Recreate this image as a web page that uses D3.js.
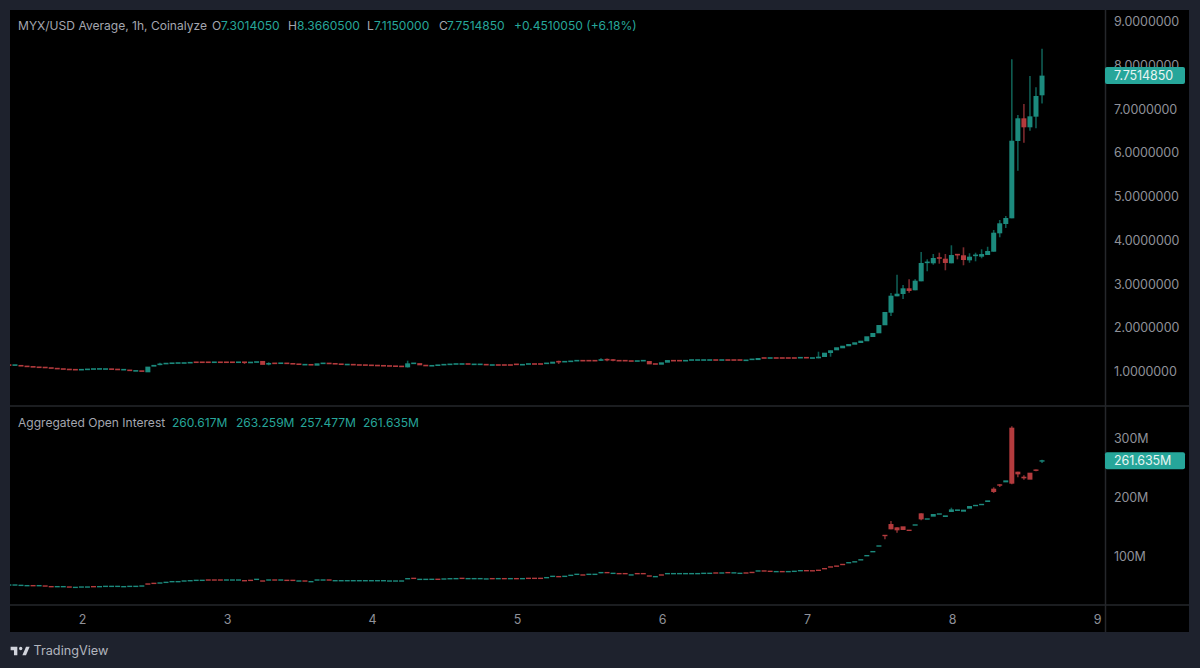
<!DOCTYPE html>
<html><head><meta charset="utf-8">
<script src="https://cdn.jsdelivr.net/npm/d3@7"></script>
<style>html,body{margin:0;padding:0;background:#1e222d;overflow:hidden}svg{display:block}text{font-family:Inter,"Noto Sans",sans-serif}</style>
</head><body><svg id="c" width="1200" height="668"></svg>
<script>
const dayTicks=[2,3,4,5,6,7,8,9];
const priceTicks=[1,2,3,4,5,6,7,8,9];
const oiTicks=[100,200,300];
const firstCandleHour=-12;
const priceOpen=[
1.14,1.13,1.13,1.11,1.10,1.09,1.085,1.075,1.06,1.05,
1.04,1.035,1.025,1.035,1.04,1.045,1.04,1.05,1.04,1.025,
1.03,1.0,1.005,0.97,1.10,1.14,1.165,1.175,1.18,1.18,
1.185,1.205,1.205,1.205,1.195,1.205,1.205,1.205,1.195,1.205,
1.19,1.19,1.23,1.155,1.18,1.17,1.18,1.17,1.16,1.14,
1.15,1.122,1.17,1.18,1.17,1.16,1.145,1.15,1.145,1.14,
1.135,1.13,1.125,1.12,1.115,1.11,1.084,1.17,1.18,1.13,
1.115,1.125,1.14,1.148,1.156,1.156,1.165,1.148,1.148,1.15,
1.133,1.142,1.142,1.142,1.157,1.14,1.156,1.165,1.165,1.171,
1.167,1.218,1.209,1.217,1.232,1.241,1.241,1.241,1.24,1.264,
1.256,1.241,1.241,1.233,1.224,1.232,1.228,1.165,1.144,1.19,
1.241,1.241,1.232,1.247,1.247,1.247,1.247,1.256,1.247,1.256,
1.256,1.256,1.24,1.262,1.25,1.302,1.293,1.302,1.302,1.302,
1.302,1.30,1.309,1.293,
1.29,1.32,1.411,1.473,1.519,1.565,1.601,1.64,1.679,1.777,1.862,2.045,2.333,2.707,2.76,2.89,2.845,3.05,3.475,3.462,3.599,3.567,3.462,3.674,3.645,3.53,3.629,3.613,3.651,3.727,4.147,4.36,4.49,6.257,6.776,6.57,6.813,7.3014];
const priceClose=[
1.13,1.14,1.11,1.10,1.09,1.08,1.075,1.06,1.05,1.04,
1.03,1.025,1.035,1.04,1.05,1.05,1.05,1.035,1.03,1.035,
1.00,1.005,0.99,1.10,1.14,1.165,1.175,1.18,1.185,1.185,
1.195,1.195,1.195,1.195,1.205,1.195,1.195,1.195,1.205,1.195,
1.20,1.22,1.14,1.175,1.17,1.185,1.17,1.16,1.15,1.15,
1.135,1.175,1.18,1.165,1.16,1.15,1.15,1.14,1.13,1.13,
1.125,1.12,1.115,1.11,1.105,1.10,1.175,1.18,1.13,1.12,
1.125,1.14,1.15,1.156,1.164,1.164,1.155,1.156,1.156,1.14,
1.141,1.132,1.132,1.132,1.147,1.148,1.164,1.155,1.155,1.179,
1.213,1.208,1.217,1.225,1.24,1.231,1.231,1.231,1.262,1.254,
1.246,1.231,1.231,1.223,1.232,1.24,1.152,1.155,1.198,1.25,
1.231,1.231,1.24,1.255,1.255,1.255,1.255,1.246,1.255,1.246,
1.246,1.246,1.248,1.27,1.297,1.292,1.301,1.292,1.292,1.292,
1.292,1.308,1.299,1.30,
1.327,1.418,1.473,1.542,1.578,1.617,1.656,1.693,1.793,1.869,2.051,2.349,2.721,2.767,2.89,2.829,3.064,3.469,3.491,3.583,3.567,3.469,3.651,3.645,3.537,3.613,3.658,3.674,3.743,4.161,4.376,4.497,6.264,6.776,6.57,6.821,7.286,7.7515];
const priceWicks=[[25,1.19,1.13],[39,1.205,1.16],[43,1.2,1.13],[66,1.236,1.08],[91,1.235,1.16],[98,1.29,1.23],[99,1.285,1.225],[100,1.275,1.225],[134,1.441,1.29],[136,1.473,1.327],[146,2.783,2.257],[147,3.201,2.707],[148,2.966,2.646],[149,3.096,2.79],[150,3.096,2.845],[151,3.72,3.05],[152,3.553,3.279],[153,3.674,3.43],[154,3.704,3.453],[155,3.674,3.302],[156,3.873,3.462],[157,3.674,3.553],[158,3.827,3.416],[159,3.69,3.475],[160,3.704,3.507],[161,3.782,3.576],[162,3.84,3.651],[163,4.223,3.727],[164,4.451,4.056],[165,4.543,4.269],[166,8.125,4.49],[167,6.851,5.578],[168,7.103,6.218],[169,7.743,6.493],[170,7.483,6.547],[171,8.366,7.115]];
const oiOpen=[50.4,50.4,49.8,49.3,50.1,49.3,49.5,48.4,47.6,47.6,47.8,46.4,47,47,48.4,47.6,48.1,48.1,48.1,47.6,48.1,48.1,48.7,52.9,54,53.8,54.9,56.1,56.1,57.2,57.7,58.3,58.3,59.7,59.7,59.7,58.9,58.9,58.9,58.5,59.1,60,58,58.9,59.7,58.9,59.1,59.1,57.2,58,56.1,58.9,58.9,59.7,57.7,57.7,57.7,57.7,57.7,57.7,57.7,57.7,57.7,57.2,57.2,57.2,61.1,62.5,60,60,60.1,60.9,60.6,60.9,61.2,62.5,61.2,61.2,61.2,60.7,62,61.2,62,61.2,62,61.2,62.5,62.5,62.5,62.9,65.1,65.4,65.1,66.8,68.5,68.2,68.5,68.5,71.4,72.2,70.2,70.5,70.5,67.5,70.5,70.5,66.5,64.6,68.2,69.7,69.7,69.7,69.7,69.7,69.7,70.2,70.2,71.6,70.8,72.2,71,70.2,71.6,72.5,74.2,75,74.4,73.1,73.9,73.1,73.6,74.7,75.5,75.3,76.1,78.9,81.8,83.2,86,88.2,89.2,92.6,99.4,106.2,115.8,135.6,154.2,148.6,150.3,144.1,151.4,172.3,161.6,166.7,170,166.1,174.6,176.3,175.1,180.2,184.7,186.4,191.5,214.1,221.5,224.8,317.5,242.9,234.4,241.2,246.3,260.617];
const oiClose=[51.2,51.2,50.6,50.1,49.3,50.1,48.7,47.6,48.4,48.4,47,47.2,47.8,47.8,47.6,48.4,48.9,48.9,48.9,48.4,48.9,48.9,49.5,52.1,53.2,54.6,55.7,56.9,56.9,58,58.5,59.1,59.1,58.9,58.9,58.9,59.7,59.7,59.7,57.7,58.3,60.8,57.2,59.7,58.9,59.7,58.3,58.3,58,57.2,56.9,59.7,59.7,58.9,58.5,58.5,58.5,58.5,58.5,58.5,58.5,58.5,58.5,58,58,58,61.9,61.7,60.8,60.8,60.9,60.1,61.4,62,62,61.7,62,62,62,61.5,61.2,62,61.2,62,61.2,62,61.7,61.7,61.7,63.7,65.9,64.6,65.9,67.6,69.3,67.4,69.3,69.3,72.2,71.4,71,69.7,69.7,68.3,69.7,69.7,65.7,65.4,67.4,70.5,70.5,70.5,70.5,70.5,70.5,71,71,70.8,71.6,71.4,71.8,71,70.8,71.7,75,74.2,73.6,73.9,73.1,73.9,74.4,75.5,74.7,74.5,75.3,78.1,81,82.4,85.2,89,91,94.4,101.7,108.5,118.1,133.9,145.2,143.5,144.1,142.9,153.7,162.1,163.8,171.2,172.3,168.9,179,179,178.5,184.7,186.4,188.1,194.3,208.5,219.2,228.2,222.6,238.4,231.6,229.4,244.6,261.635];
const oiWicks=[[98,72.4,70.6],[145,135.6,128.2],[146,159.3,145.2],[147,148.6,139.5],[151,172.3,160.4],[156,181.9,174.6],[163,216.4,206.8],[164,221.5,216.9],[166,319.8,221.5],[167,242.9,233.3],[168,236.7,229.4],[170,246.8,243.6],[171,263.259,257.477]];
const titleParts=[["MYX/USD Average, 1h, Coinalyze",18,0],["O",212,0],["7.3014050",221,1],["H",288,0],["8.3660500",297,1],["L",367,0],["7.1150000",374,1],["C",439,0],["7.7514850",447,1],["+0.4510050 (+6.18%)",514,1]];
const oiLegend=[["Aggregated Open Interest",18,0],["260.617M",172,1],["263.259M",236,1],["257.477M",300,1],["261.635M",363,1]];
const lastPrice=7.751485, lastOI=261.635;

const GREEN="#1c8a7d",RED="#b33a3d",GWICK="#0f5c53",RWICK="#7c2b2e";
const UP="#26a69a",GREY="#a3a6af",TXT="#8f9199";
const svg=d3.select("#c");
svg.append("rect").attr("width",1200).attr("height",668).attr("fill","#1e222d");
svg.append("rect").attr("x",10).attr("y",10).attr("width",1179).attr("height",622).attr("fill","#000");
const line=(x1,y1,x2,y2)=>svg.append("line").attr("x1",x1).attr("y1",y1).attr("x2",x2).attr("y2",y2).attr("stroke","#25272b").attr("stroke-width",1.5);
line(1105.5,10,1105.5,632);line(10,406,1189,406);line(10,605,1189,605);
const defs=svg.append("defs");
defs.append("clipPath").attr("id","p1").append("rect").attr("x",10).attr("y",10).attr("width",1095).attr("height",395);
defs.append("clipPath").attr("id","p2").append("rect").attr("x",10).attr("y",407).attr("width",1095).attr("height",197);
defs.append("filter").attr("id","soft").attr("x","-5%").attr("y","-5%").attr("width","110%").attr("height","110%")
  .append("feGaussianBlur").attr("stdDeviation",0.35);

const x=d3.scaleLinear().domain([2,9]).range([82,1097]);
const yP=d3.scaleLinear().domain([1,9]).range([371,21]);
const yO=d3.scaleLinear().domain([100,300]).range([556,438]);
const xOf=i=>x(2+(i+firstCandleHour)/24)-0.6;

function drawCandles(opens,closes,wicks,y,clip,minH,bw){
  const wm=new Map(wicks.map(w=>[w[0],w]));
  const data=opens.map((o,i)=>({i,o,c:closes[i],w:wm.get(i)}));
  const g=svg.append("g").attr("clip-path",`url(#${clip})`).append("g").attr("filter","url(#soft)");
  g.selectAll("line").data(data.filter(d=>d.w)).join("line")
   .attr("x1",d=>xOf(d.i)).attr("x2",d=>xOf(d.i))
   .attr("y1",d=>y(d.w[1])).attr("y2",d=>y(d.w[2]))
   .attr("stroke",d=>d.c>=d.o?GWICK:RWICK).attr("stroke-width",1.6);
  g.selectAll("rect").data(data).join("rect")
   .attr("x",d=>xOf(d.i)-bw/2).attr("width",bw)
   .attr("y",d=>{const t=Math.min(y(d.o),y(d.c)),h=Math.abs(y(d.o)-y(d.c));return h<minH?(t+h/2-minH/2):t;})
   .attr("height",d=>Math.max(Math.abs(y(d.o)-y(d.c)),minH))
   .attr("fill",d=>d.c>=d.o?GREEN:RED);
}
drawCandles(priceOpen,priceClose,priceWicks,yP,"p1",1.6,5);
drawCandles(oiOpen,oiClose,oiWicks,yO,"p2",1.4,5);

function styleAxis(g){g.select(".domain").remove();g.selectAll("line").remove();
  g.selectAll("text").attr("fill",TXT).attr("font-size",12.5).style("letter-spacing","-0.1px");}
svg.append("g").attr("transform","translate(1105,0.7)").call(d3.axisRight(yP).tickValues(priceTicks).tickFormat(d3.format(".7f")).tickSize(0).tickPadding(9)).call(styleAxis);
svg.append("g").attr("transform","translate(1105,0.7)").call(d3.axisRight(yO).tickValues(oiTicks).tickFormat(d=>d+"M").tickSize(0).tickPadding(9)).call(styleAxis);
svg.append("g").attr("transform","translate(0,614)").call(d3.axisBottom(x).tickValues(dayTicks).tickFormat(d3.format("d")).tickSize(0).tickPadding(1)).call(styleAxis);

function tag(y,label){
  svg.append("rect").attr("x",1105).attr("y",y-8.5).attr("width",80).attr("height",17).attr("rx",2).attr("fill",UP);
  svg.append("text").attr("x",1114).attr("y",y).attr("dy","0.35em").attr("fill","#e8f5f3").attr("font-size",12.5).style("letter-spacing","-0.1px").text(label);
}
tag(yP(lastPrice),d3.format(".7f")(lastPrice));
tag(yO(lastOI),d3.format(".3f")(lastOI)+"M");

function legend(parts,y){svg.append("g").selectAll("text").data(parts).join("text")
  .attr("x",d=>d[1]).attr("y",y).attr("dy","0.35em").attr("font-size",12.05)
  .attr("fill",d=>d[2]?UP:GREY).text(d=>d[0]);}
legend(titleParts,26);legend(oiLegend,423);

const logo=svg.append("g").attr("transform","translate(9.5,643.5) scale(0.56)").attr("fill","#d1d4dc");
logo.append("path").attr("d","M14 6H2v6h6v9h6V6Zm16 15h-7l6.5-15H36l-6.5 15Z");
logo.append("circle").attr("cx",20).attr("cy",9).attr("r",3);
svg.append("text").attr("x",33.5).attr("y",651).attr("dy","0.35em").attr("font-size",12.7).attr("fill","#b2b5be").text("TradingView");
</script></body></html>
